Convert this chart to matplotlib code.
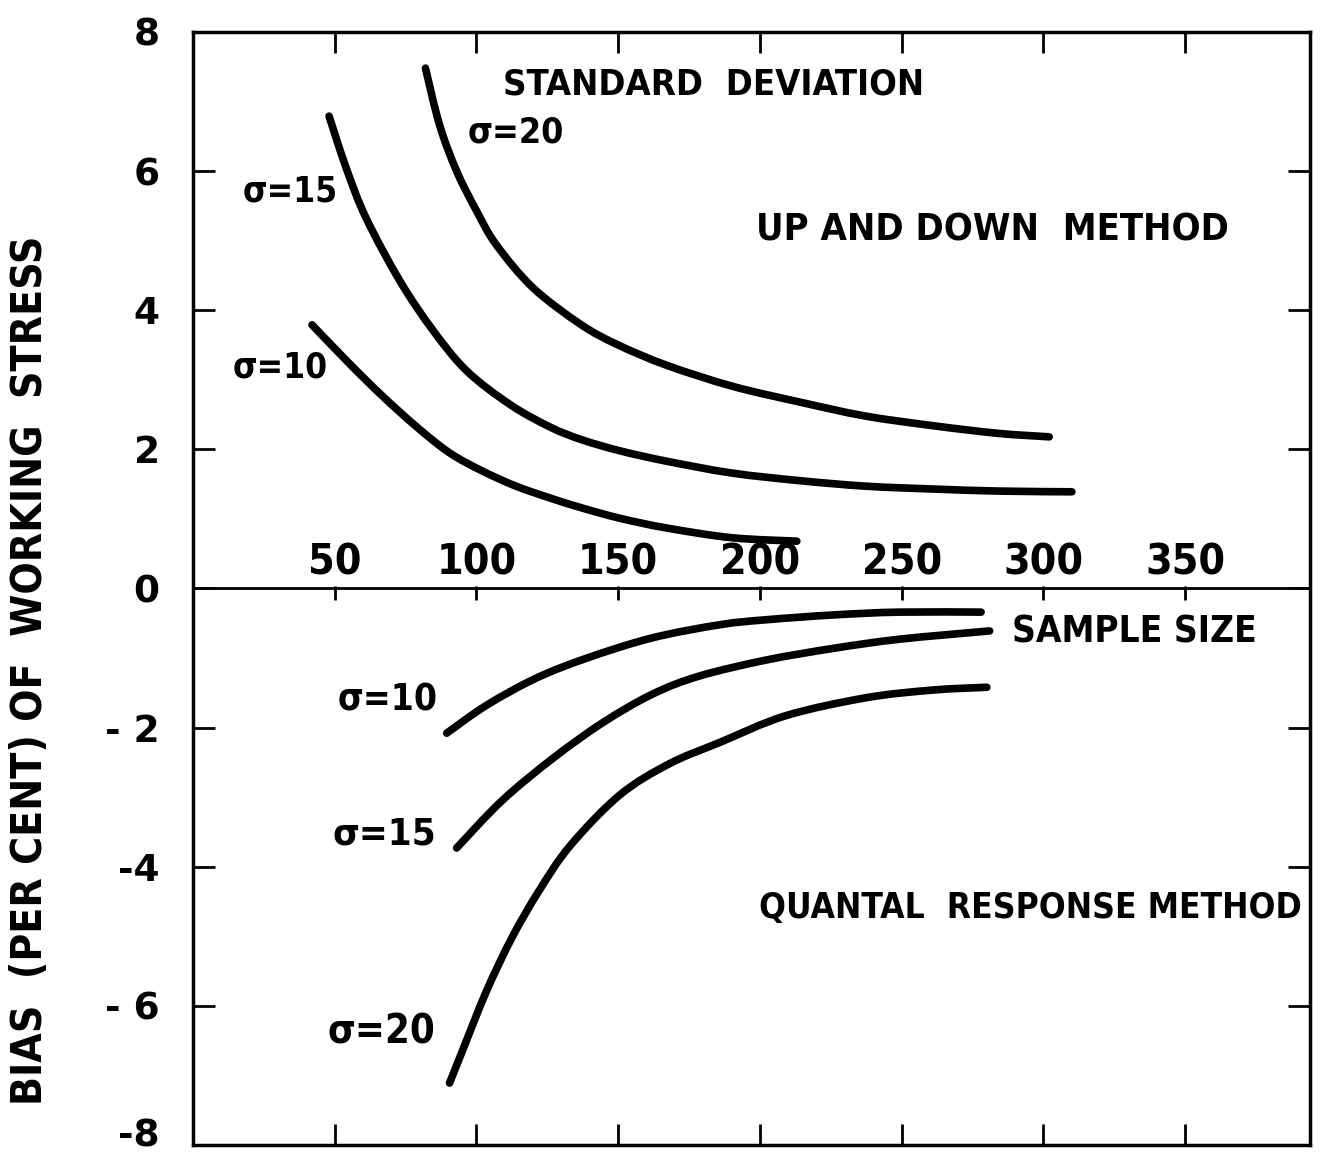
import os
import matplotlib
matplotlib.use('Agg')
import matplotlib.pyplot as plt
from matplotlib import font_manager
from matplotlib.path import Path
from matplotlib.patches import PathPatch
from matplotlib.transforms import ScaledTranslation

# ─────────────────────────────────────────────
# Data (sample size vs bias %)
# ─────────────────────────────────────────────

# Up and down method
UD20_X = [82, 87, 93, 100, 107, 120, 137, 150, 167, 190, 214, 237, 261, 284, 302]
UD20_Y = [7.48, 6.66, 6.00, 5.43, 4.94, 4.32, 3.79, 3.50, 3.21, 2.91, 2.68, 2.48, 2.34, 2.23, 2.18]

UD15_X = [48, 54, 61, 73, 84.5, 96.5, 112, 126, 137, 150.5, 167, 190, 214, 237.5, 261, 284.5, 310]
UD15_Y = [6.79, 6.05, 5.33, 4.42, 3.72, 3.13, 2.64, 2.32, 2.14, 1.98, 1.83, 1.66, 1.55, 1.47, 1.43, 1.40, 1.39]

UD10_X = [42, 55, 67, 79, 90.5, 102, 114, 126, 137, 150.5, 167, 190, 213]
UD10_Y = [3.79, 3.24, 2.76, 2.32, 1.95, 1.69, 1.47, 1.30, 1.16, 1.01, 0.87, 0.73, 0.68]

# Quantal response method
QR10_X = [89.5, 103.5, 121, 139, 162, 186, 202, 226, 249, 278]
QR10_Y = [-2.08, -1.68, -1.29, -1.00, -0.71, -0.52, -0.45, -0.38, -0.34, -0.34]

QR15_X = [93, 109, 127, 144.5, 162, 178.5, 202, 226, 249, 281]
QR15_Y = [-3.73, -3.05, -2.44, -1.93, -1.52, -1.26, -1.03, -0.86, -0.73, -0.61]

QR20_X = [90.5, 95, 103.5, 112.5, 122, 133, 150.5, 168, 186, 209, 237.5, 261, 280]
QR20_Y = [-7.11, -6.65, -5.79, -5.02, -4.35, -3.70, -2.97, -2.52, -2.21, -1.83, -1.57, -1.46, -1.42]

XTICKS = [50, 100, 150, 200, 250, 300, 350]
YTICKS = [-8, -6, -4, -2, 0, 2, 4, 6, 8]
YTICK_LABELS = ['-8', '- 6', '-4', '- 2', '0', '2', '4', '6', '8']

# ─────────────────────────────────────────────
# Fonts: look for a narrow bold face, the scan uses a condensed lettering
# ─────────────────────────────────────────────

def pick_narrow_bold():
    best, best_score = None, None
    for f in font_manager.fontManager.ttflist:
        tag = (f.name + ' ' + os.path.basename(f.fname)).lower().replace('-', '').replace('_', '')
        if 'italic' in tag or 'oblique' in tag:
            continue
        stretch = str(f.stretch).lower()
        if 'narrow' in tag or 'condensed' in tag or 'condensed' in stretch:
            if 'extracondensed' in tag or 'extra' in stretch or 'ultra' in stretch:
                s1 = 2
            elif 'semicondensed' in tag or 'semi' in stretch:
                s1 = 1
            else:
                s1 = 0
            w = f.weight if isinstance(f.weight, int) else 700
            score = s1 + abs(w - 700) / 100
            if best_score is None or score < best_score:
                best, best_score = f.fname, score
    if best:
        return font_manager.FontProperties(fname=best)
    return font_manager.FontProperties(family='Liberation Sans', weight='bold')

FP = pick_narrow_bold()

# ─────────────────────────────────────────────
# Plot helpers
# ─────────────────────────────────────────────

def smooth_curve(ax, xs, ys, **kw):
    """Draw a curve through the read points as a Catmull-Rom bezier path."""
    pts = list(zip(xs, ys))
    n = len(pts)
    verts = [pts[0]]
    codes = [Path.MOVETO]
    for i in range(n - 1):
        p0 = pts[max(i - 1, 0)]
        p1 = pts[i]
        p2 = pts[i + 1]
        p3 = pts[min(i + 2, n - 1)]
        c1 = (p1[0] + (p2[0] - p0[0]) / 6, p1[1] + (p2[1] - p0[1]) / 6)
        c2 = (p2[0] - (p3[0] - p1[0]) / 6, p2[1] - (p3[1] - p1[1]) / 6)
        verts += [c1, c2, p2]
        codes += [Path.CURVE4] * 3
    patch = PathPatch(Path(verts, codes), fill=False, transform=ax.transData, **kw)
    ax.add_patch(patch)
    return patch


fig = plt.figure(figsize=(13.29, 11.54), dpi=100)
ax = fig.add_axes([0.1452, 0.0078, 0.8405, 0.9645])
renderer = fig.canvas.get_renderer()


def fit_text(t, width_px, max_size):
    """Shrink a text until it is no wider (or taller, if rotated) than width_px."""
    t.set_fontsize(max_size)
    bb = t.get_window_extent(renderer)
    span = bb.height if t.get_rotation() == 90 else bb.width
    if span > width_px:
        t.set_fontsize(max_size * width_px / span)
    return t


line_kw = dict(edgecolor='black', lw=5.5, capstyle='round', joinstyle='round')
for xs, ys in [(UD20_X, UD20_Y), (UD15_X, UD15_Y), (UD10_X, UD10_Y),
               (QR10_X, QR10_Y), (QR15_X, QR15_Y), (QR20_X, QR20_Y)]:
    smooth_curve(ax, xs, ys, **line_kw)

ax.set_xlim(0, 394)
ax.set_ylim(-8, 8)

for s in ax.spines.values():
    s.set_linewidth(2.5)

ax.set_xticks(XTICKS)
ax.tick_params(axis='x', direction='in', top=True, bottom=True,
               labelbottom=False, length=15, width=2)
ax.set_yticks(YTICKS)
ax.set_yticklabels(YTICK_LABELS, fontsize=27, fontweight='bold', family='DejaVu Sans')
ax.tick_params(axis='y', direction='in', left=True, right=True,
               length=16, width=2, pad=24)
# nudge the bottom label up so it is not clipped
lab = ax.get_yticklabels()[0]
lab.set_transform(lab.get_transform() + ScaledTranslation(0, 9 / 72, fig.dpi_scale_trans))

# zero line acts as the sample size axis
ax.axhline(0, color='black', lw=2)
ax.vlines(XTICKS, -0.17, 0.04, color='black', lw=2)
probe = fit_text(ax.text(0, 0, '300', fontproperties=FP), 80, 34)
tick_size = probe.get_fontsize()
probe.remove()
for x in XTICKS:
    ax.text(x, 0.07, str(x), ha='center', va='bottom', fontsize=tick_size, fontproperties=FP)

# annotations: (text, x, y, width in px)
NOTES = [
    ('STANDARD  DEVIATION', 183.6, 7.25, 422),
    ('UP AND DOWN  METHOD', 282.0, 5.14, 473),
    ('SAMPLE SIZE', 332.0, -0.63, 245),
    ('QUANTAL  RESPONSE METHOD', 295.4, -4.59, 542),
    ('σ=20', 113.8, 6.55, 97),
    ('σ=15', 34.2, 5.71, 95),
    ('σ=10', 30.6, 3.17, 95),
    ('σ=10', 68.7, -1.60, 100),
    ('σ=15', 67.6, -3.53, 104),
    ('σ=20', 66.6, -6.38, 108),
]
for s, x, y, w in NOTES:
    t = ax.text(x, y, s, ha='center', va='center', fontproperties=FP)
    fit_text(t, w, 34)

ylab = fig.text(0.0226, 0.4194, 'BIAS  (PER CENT) OF  WORKING  STRESS', rotation=90,
                ha='center', va='center', fontproperties=FP)
fit_text(ylab, 870, 38)

fig.savefig('out.png', dpi=100)
